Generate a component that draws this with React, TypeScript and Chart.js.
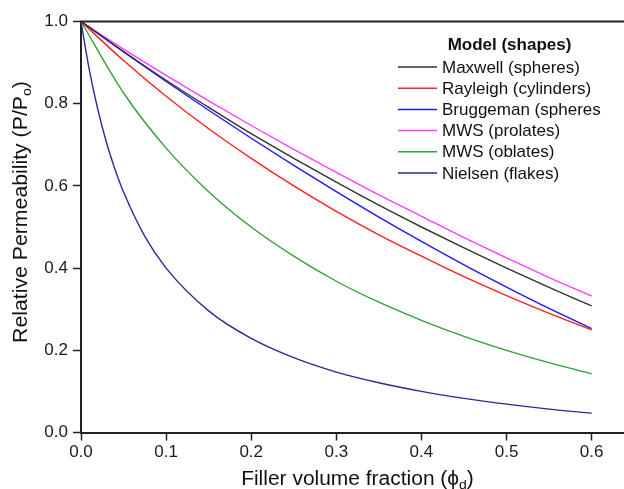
import React, { useEffect, useRef } from "react";
import { Chart, registerables } from "chart.js";

Chart.register(...registerables);

// ---- data ----
const xMain = [0, 0.05, 0.1, 0.15, 0.2, 0.25, 0.3, 0.35, 0.4, 0.45, 0.5, 0.55, 0.6];
const xFine = [0, 0.01, 0.02, 0.03, 0.04, 0.05, 0.075, 0.1, 0.15, 0.2, 0.25, 0.3, 0.35, 0.4, 0.45, 0.5, 0.55, 0.6];

const maxwell = [1, 0.927, 0.857, 0.791, 0.727, 0.667, 0.609, 0.553, 0.5, 0.449, 0.4, 0.353, 0.308];
const rayleigh = [1, 0.905, 0.818, 0.739, 0.667, 0.6, 0.538, 0.481, 0.429, 0.379, 0.333, 0.29, 0.25];
const bruggeman = [1, 0.926, 0.854, 0.784, 0.716, 0.65, 0.586, 0.524, 0.465, 0.408, 0.354, 0.302, 0.253];
const mwsProlates = [1, 0.933, 0.869, 0.807, 0.747, 0.689, 0.633, 0.578, 0.526, 0.474, 0.425, 0.377, 0.332];
const mwsOblates = [1, 0.826, 0.692, 0.586, 0.5, 0.429, 0.368, 0.317, 0.273, 0.234, 0.2, 0.17, 0.143];
const nielsen = [1, 0.88, 0.784, 0.705, 0.64, 0.585, 0.477, 0.4, 0.296, 0.229, 0.182, 0.147, 0.121, 0.1, 0.083, 0.069, 0.057, 0.047];

const seriesNames = [
  "Maxwell (spheres)",
  "Rayleigh (cylinders)",
  "Bruggeman (spheres",
  "MWS (prolates)",
  "MWS (oblates)",
  "Nielsen (flakes)",
];
const seriesColors = ["#333333", "#ff2020", "#1a1aff", "#ff40ff", "#35a035", "#2a2a9a"];
const legendTitle = "Model (shapes)";
const xTicks = [0, 0.1, 0.2, 0.3, 0.4, 0.5, 0.6];
const yTicks = [0, 0.2, 0.4, 0.6, 0.8, 1.0];

const FONT = "'Liberation Sans', Arial, Helvetica, sans-serif";

const pair = (xs: number[], ys: number[]) => xs.map((x, i) => ({ x, y: ys[i] }));

const decorPlugin = {
  id: "decor",
  afterDraw(chart: any) {
    const ctx = chart.ctx as CanvasRenderingContext2D;
    const ca = chart.chartArea;
    ctx.save();
    // top frame line
    ctx.strokeStyle = "#222";
    ctx.lineWidth = 2;
    ctx.beginPath();
    ctx.moveTo(ca.left - 1, ca.top);
    ctx.lineTo(ca.right, ca.top);
    ctx.stroke();

    // legend
    ctx.fillStyle = "#111";
    ctx.font = `bold 17px ${FONT}`;
    ctx.textAlign = "center";
    ctx.textBaseline = "middle";
    ctx.fillText(legendTitle, 509.5, 45);
    ctx.font = `17px ${FONT}`;
    ctx.textAlign = "left";
    seriesNames.forEach((name, i) => {
      const y = 67 + i * 21.2;
      ctx.strokeStyle = seriesColors[i];
      ctx.lineWidth = 1.5;
      ctx.beginPath();
      ctx.moveTo(398, y);
      ctx.lineTo(437, y);
      ctx.stroke();
      ctx.fillStyle = "#111";
      ctx.fillText(name, 442, y + 1);
    });

    // axis titles with subscripts
    const drawSegs = (segs: [string, number, number][], stretch: number) => {
      let total = 0;
      segs.forEach(([t, fs]) => {
        ctx.font = `${fs}px ${FONT}`;
        total += ctx.measureText(t).width;
      });
      ctx.scale(stretch, 1);
      let x = -total / 2;
      segs.forEach(([t, fs, dy]) => {
        ctx.font = `${fs}px ${FONT}`;
        ctx.fillText(t, x, dy);
        x += ctx.measureText(t).width;
      });
    };
    ctx.fillStyle = "#111";
    ctx.textAlign = "left";
    ctx.textBaseline = "alphabetic";
    // x title
    ctx.save();
    ctx.translate(357.5, 485);
    drawSegs(
      [
        ["Filler volume fraction (\u03d5", 19.5, 0],
        ["d", 13, 4],
        [")", 19.5, 0],
      ],
      1.075
    );
    ctx.restore();
    // y title
    ctx.save();
    ctx.translate(27, 212);
    ctx.rotate(-Math.PI / 2);
    drawSegs(
      [
        ["Relative Permeability (P/P", 19.5, 0],
        ["o", 13, 4],
        [")", 19.5, 0],
      ],
      1.09
    );
    ctx.restore();
    ctx.restore();
  },
};

export default function App() {
  const ref = useRef<HTMLCanvasElement | null>(null);
  useEffect(() => {
    if (!ref.current) return;
    const allY = [maxwell, rayleigh, bruggeman, mwsProlates, mwsOblates, nielsen];
    const allX = [xMain, xMain, xMain, xMain, xMain, xFine];
    const chart = new Chart(ref.current, {
      type: "line",
      data: {
        datasets: allY.map((ys, i) => ({
          label: seriesNames[i],
          data: pair(allX[i], ys),
          borderColor: seriesColors[i],
          backgroundColor: seriesColors[i],
          borderWidth: 1.4,
          pointRadius: 0,
          fill: false,
          cubicInterpolationMode: "monotone" as const,
        })),
      },
      options: {
        responsive: false,
        animation: false,
        devicePixelRatio: 1,
        layout: { padding: { top: 21.5, right: 0, left: 0, bottom: 0 } },
        plugins: { legend: { display: false }, tooltip: { enabled: false } },
        scales: {
          x: {
            type: "linear",
            min: 0,
            max: 0.638,
            afterFit: (s: any) => {
              s.height = 56.5;
            },
            afterBuildTicks: (s: any) => {
              s.ticks = xTicks.map((v) => ({ value: v }));
            },
            ticks: {
              includeBounds: false,
              padding: 2,
              color: "#1a1a1a",
              font: { family: FONT, size: 17 },
              maxRotation: 0,
              callback: (v: any) => Number(v).toFixed(1),
            },
            grid: {
              drawOnChartArea: false,
              drawTicks: true,
              tickLength: 8,
              tickWidth: 1.5,
              tickColor: "#222",
            },
            border: { display: true, color: "#222", width: 2 },
          },
          y: {
            type: "linear",
            min: 0,
            max: 1,
            afterFit: (s: any) => {
              s.width = 81;
            },
            afterBuildTicks: (s: any) => {
              s.ticks = yTicks.map((v) => ({ value: v }));
            },
            ticks: {
              padding: 5,
              color: "#1a1a1a",
              font: { family: FONT, size: 17 },
              callback: (v: any) => Number(v).toFixed(1),
            },
            grid: {
              drawOnChartArea: false,
              drawTicks: true,
              tickLength: 8,
              tickWidth: 1.5,
              tickColor: "#222",
            },
            border: { display: true, color: "#222", width: 2 },
          },
        },
      },
      plugins: [decorPlugin],
    });
    return () => chart.destroy();
  }, []);
  return (
    <canvas
      ref={ref}
      width={624}
      height={489}
      style={{ position: "fixed", left: 0, top: 0, width: 624, height: 489, background: "#fff" }}
    />
  );
}
